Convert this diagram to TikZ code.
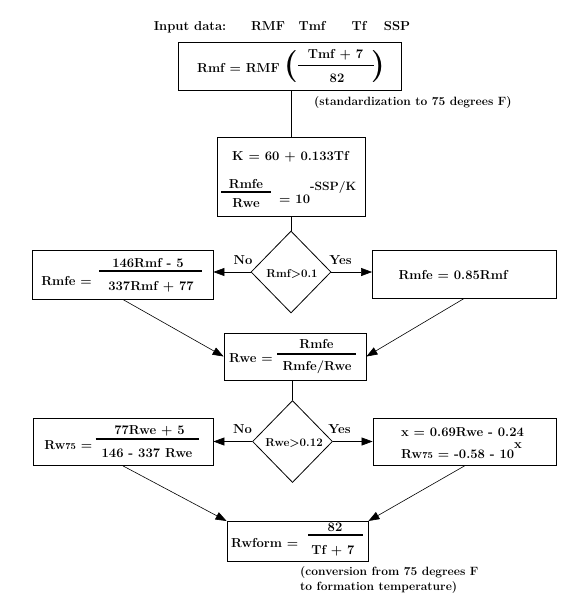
\documentclass[tikz,border=0pt]{standalone}
\usepackage{fontspec}
\usetikzlibrary{shapes.geometric,arrows.meta}
\newcommand{\smallnum}[1]{{\fontsize{9}{9}\selectfont #1}}
\tikzset{
  mainfont/.style={font=\fontsize{13}{15}\selectfont\bfseries},
  smallfont/.style={font=\fontsize{11.5}{13}\selectfont\bfseries},
  notefont/.style={font=\fontsize{12}{14}\selectfont\bfseries},
  box/.style={draw, line width=0.8pt, rectangle, inner sep=0pt},
  dec/.style={draw, line width=0.8pt, diamond, inner sep=0pt, minimum width=80pt, minimum height=82pt},
  txt/.style={mainfont, inner sep=0pt, anchor=base},
  txtw/.style={mainfont, inner sep=0pt, anchor=base west},
  txte/.style={mainfont, inner sep=0pt, anchor=base east},
  stxt/.style={smallfont, inner sep=0pt, anchor=base},
  note/.style={notefont, inner sep=0pt, anchor=base west},
  paren/.style={font=\fontsize{32}{32}\selectfont\bfseries, inner sep=0pt},
  fracrule/.style={line width=1.6pt},
  conn/.style={line width=0.6pt},
  arr/.style={line width=0.6pt, -{Triangle[length=11pt,width=8pt]}}
}
\begin{document}
\begin{tikzpicture}[x=1pt,y=-1pt]
\useasboundingbox[fill=white] (0,0) rectangle (576,610);

% input row
\node[txt] (in0) at (190,31) {Input data:};
\node[txt] (in1) at (268,31) {RMF};
\node[txt] (in2) at (312,31) {Tmf};
\node[txt] (in3) at (359,31) {Tf};
\node[txt] (in4) at (397,31) {SSP};

% box 1
\node[box, minimum width=223pt, minimum height=48pt] (b1) at (289.5,66) {};
\node[txte] (b1l) at (280,73) {Rmf = RMF};
\node[paren] (b1p) at (291,66.5) {(};
\node[txt] (b1n) at (335.5,58.5) {Tmf + 7};
\draw[fracrule] (298,65.7) -- (374,65.7);
\node[txt] (b1d) at (337,82.5) {82};
\node[paren] (b1q) at (378,66.5) {)};
\node[note] (n1) at (314,105) {(standardization to 75 degrees F)};

% box 2
\node[box, minimum width=148pt, minimum height=79pt] (b2) at (291,176.5) {};
\node[txtw] (k1) at (232,160) {K = 60 + 0.133Tf};
\node[txt] (k2n) at (246,188) {Rmfe};
\draw[fracrule] (221,191.7) -- (271,191.7);
\node[txt] (k2d) at (246,207) {Rwe};
\node[txtw] (k2r) at (279,203) {= 10\raisebox{13pt}{\fontsize{12}{12}\selectfont -SSP/K}};

% decision 1
\node[dec] (d1) at (291,272) {};
\node[stxt] (d1t) at (292,277) {Rmf>0.1};
\node[txt] (no1) at (243,264) {No};
\node[txt] (yes1) at (340.5,264) {Yes};

% left box 1
\node[box, minimum width=180.5pt, minimum height=49pt] (lb1) at (122.75,274.5) {};
\node[txte] (lb1l) at (92,285.6) {Rmfe =};
\node[txt] (lb1n) at (148,267) {146Rmf - 5};
\draw[fracrule] (99,271) -- (202,271);
\node[txt] (lb1d) at (151,290.5) {337Rmf + 77};

% right box 1
\node[box, minimum width=183.5pt, minimum height=48pt] (rb1) at (464.25,274) {};
\node[txt] (rb1t) at (453,279) {Rmfe = 0.85Rmf};

% Rwe box
\node[box, minimum width=142pt, minimum height=47pt] (rwe) at (295,356.5) {};
\node[txte] (rwel) at (273,362.5) {Rwe =};
\node[txt] (rwen) at (316.5,348.5) {Rmfe};
\draw[fracrule] (277,354) -- (356,354);
\node[txt] (rwed) at (317,370) {Rmfe/Rwe};

% decision 2
\node[dec] (d2) at (292.5,441.5) {};
\node[stxt] (d2t) at (294,446) {Rwe>0.12};
\node[txt] (no2) at (242.5,433.3) {No};
\node[txt] (yes2) at (339.5,433) {Yes};

% left box 2
\node[box, minimum width=180pt, minimum height=47.5pt] (lb2) at (123,441.75) {};
\node[txte] (lb2l) at (92.5,449) {Rw\smallnum{75} =};
\node[txt] (lb2n) at (149.5,434.3) {77Rwe + 5};
\draw[fracrule] (95.5,439.2) -- (199,439.2);
\node[txt] (lb2d) at (147,457.5) {146 - 337 Rwe};

% right box 2
\node[box, minimum width=183pt, minimum height=47.5pt] (rb2) at (464.5,441.75) {};
\node[txt] (x1) at (462.5,436) {x = 0.69Rwe - 0.24};
\node[txtw] (x2) at (401,458) {Rw\smallnum{75} = -0.58 - 10\raisebox{10pt}{x}};

% Rwform box
\node[box, minimum width=141pt, minimum height=40pt] (rwf) at (297.5,541.4) {};
\node[txte] (rwfl) at (298.5,547.5) {Rwform =};
\node[txt] (rwfn) at (335,531.2) {82};
\draw[fracrule] (308,534.7) -- (363,534.7);
\node[txt] (rwfd) at (333,554.4) {Tf + 7};
\node[note] (n2a) at (300,575) {(conversion from 75 degrees F};
\node[note] (n2b) at (300,590) {to formation temperature)};

% connectors
\draw[conn] (b2.north) -- (b2.north |- b1.south);
\draw[conn] (d1.north) -- (d1.north |- b2.south);
\draw[arr] (d1.west) -- (d1.west -| lb1.east);
\draw[arr] (d1.east) -- (d1.east -| rb1.west);
\draw[arr] (lb1.south) -- (rwe.west);
\draw[arr] (rb1.south) -- (rwe.east);
\draw[conn] (d2.north) -- (d2.north |- rwe.south);
\draw[arr] (d2.west) -- (d2.west -| lb2.east);
\draw[arr] (d2.east) -- (d2.east -| rb2.west);
\draw[arr] (lb2.south) -- (rwf.north west);
\draw[arr] (rb2.south) -- (rwf.north east);
\end{tikzpicture}
\end{document}
